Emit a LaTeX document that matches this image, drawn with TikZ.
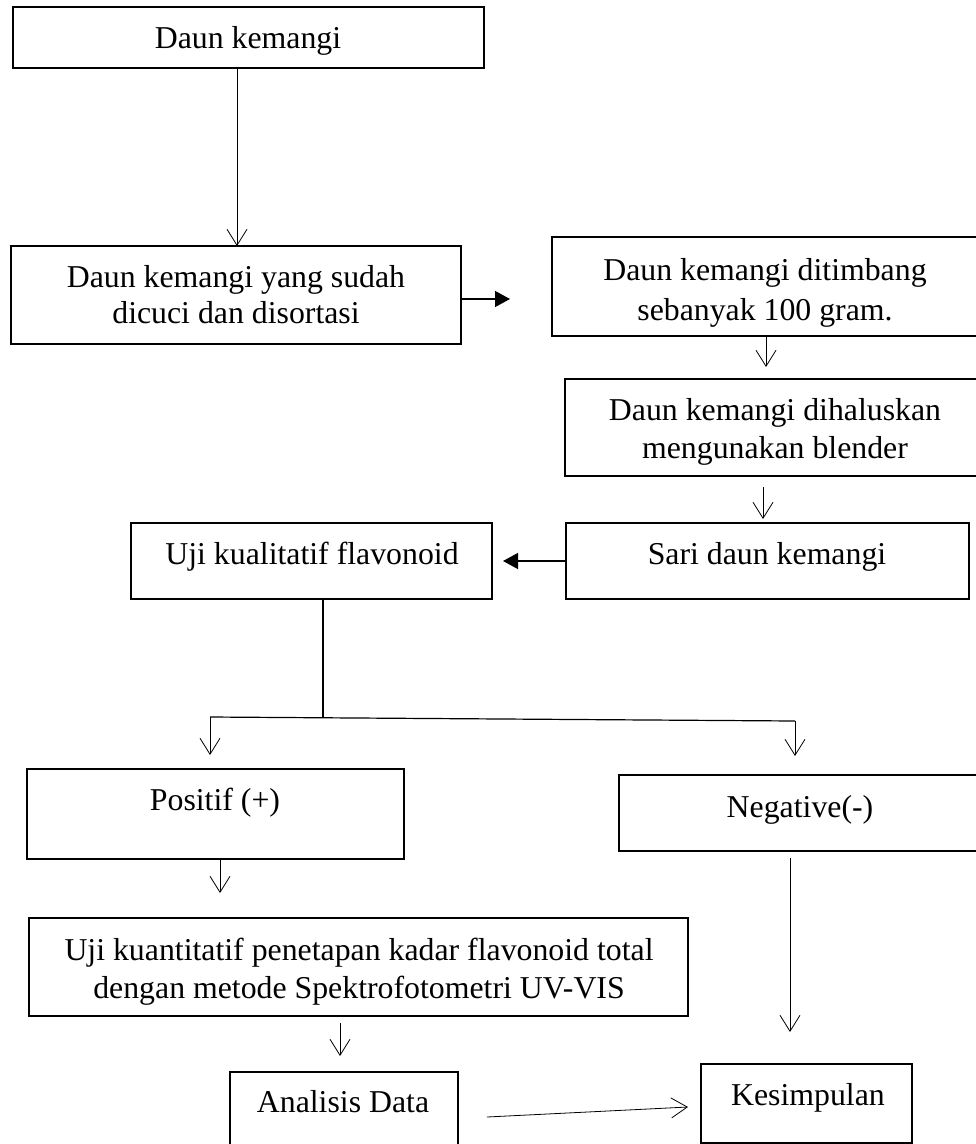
\documentclass[tikz,border=0pt]{standalone}
\usepackage{fontspec}
\setmainfont{Liberation Serif}
\usetikzlibrary{arrows.meta}
\newcommand\mybox[6][]{\node[box,#1,minimum width={(#4-#2)*1pt},minimum height={(#5-#3)*1pt}] (#6) at ({(#2+#4)/2},{(#3+#5)/2}) {};}
\begin{document}
\begin{tikzpicture}[x=1pt,y=-1pt,
  box/.style={draw, line width=1.4pt, inner sep=0pt, outer sep=0pt, rectangle},
  txt/.style={font=\fontsize{31.8}{38}\selectfont, inner sep=0pt, anchor=base},
  openarrow/.style={line width=0.8pt, -{Straight Barb[length=16pt,width=20pt,line width=0.8pt]}},
  boldarrow/.style={line width=1.3pt, -{Triangle[length=15pt,width=16pt]}},
  joint/.style={line width=1.2pt}
]
\clip (0,0) rectangle (976,1144);
\fill[white] (0,0) rectangle (976,1144);

% boxes
\mybox{13}{7}{484}{68}{b1}
\mybox{11}{246}{461}{344}{b2}
\mybox[line width=2.5pt]{552}{237}{995}{336}{b3}
\mybox{565}{379}{995}{476}{b4}
\mybox{566}{523}{969}{599}{b5}
\mybox{131}{523}{492}{599}{b6}
\mybox[line width=1.8pt]{27}{769}{404}{859}{pos}
\mybox[line width=1.8pt]{619}{775}{995}{851}{neg}
\mybox{29}{918}{688}{1016}{kuan}
\mybox{230}{1072}{458}{1170}{anal}
\mybox{701}{1064}{912}{1143}{kes}

% texts
\node[txt] (t1) at (248,48) {Daun kemangi};
\node[txt] (t2a) at (236,287) {Daun kemangi yang sudah};
\node[txt] (t2b) at (236,323) {dicuci dan disortasi};
\node[txt] (t3a) at (765,280) {Daun kemangi ditimbang};
\node[txt] (t3b) at (765,320) {sebanyak 100 gram.};
\node[txt] (t4a) at (775,420) {Daun kemangi dihaluskan};
\begin{scope}
\clip (565,379) rectangle (976,464);
\node[txt] (t4b) at (775,458) {mengunakan blender};
\end{scope}
\node[txt] (t5) at (767,564) {Sari daun kemangi};
\node[txt] (t6) at (312,564) {Uji kualitatif flavonoid};
\node[txt] (t7) at (215,810) {Positif (+)};
\node[txt] (t8) at (800,817) {Negative(-)};
\node[txt] (t9a) at (359,960) {Uji kuantitatif penetapan kadar flavonoid total};
\node[txt] (t9b) at (359,998) {dengan metode Spektrofotometri UV-VIS};
\node[txt] (t10) at (343,1112) {Analisis Data};
\node[txt] (t11) at (808,1105) {Kesimpulan};

% helper coordinates
\coordinate (c1) at (237,0);
\coordinate (e2) at (510,299);
\coordinate (c3) at (766,0);
\coordinate (e3) at (766,367);
\coordinate (c4) at (763,0);
\coordinate (e4) at (763,519);
\coordinate (e5) at (503,561);
\coordinate (c6) at (323,0);
\coordinate (j6) at (323,717);
\coordinate (jl) at (210,717);
\coordinate (jr) at (795,721);
\coordinate (el) at (210,755);
\coordinate (er) at (795,756);
\coordinate (c7) at (220,0);
\coordinate (e7) at (220,893);
\coordinate (s8) at (790,858);
\coordinate (e8) at (790,1032);
\coordinate (s9) at (340,1023);
\coordinate (e9) at (340,1056);
\coordinate (s10) at (487,1117);
\coordinate (e10) at (688,1107);

% connectors
\draw[openarrow] (b1.south -| c1) -- (b2.north -| c1);
\draw[boldarrow] (b2.east |- e2) -- (e2);
\draw[openarrow] (b3.south -| c3) -- (e3);
\draw[openarrow] (b4.south -| c4) ++(0,11) -- (e4);
\draw[boldarrow] (b5.west |- e5) -- (e5);
\draw[joint] (b6.south -| c6) -- (j6);
\draw[joint] (jl) -- (jr);
\draw[openarrow] (jl) -- (el);
\draw[openarrow] (jr) -- (er);
\draw[openarrow] (pos.south -| c7) -- (e7);
\draw[openarrow] (s8) -- (e8);
\draw[openarrow] (s9) -- (e9);
\draw[openarrow] (s10) -- (e10);
\end{tikzpicture}
\end{document}
